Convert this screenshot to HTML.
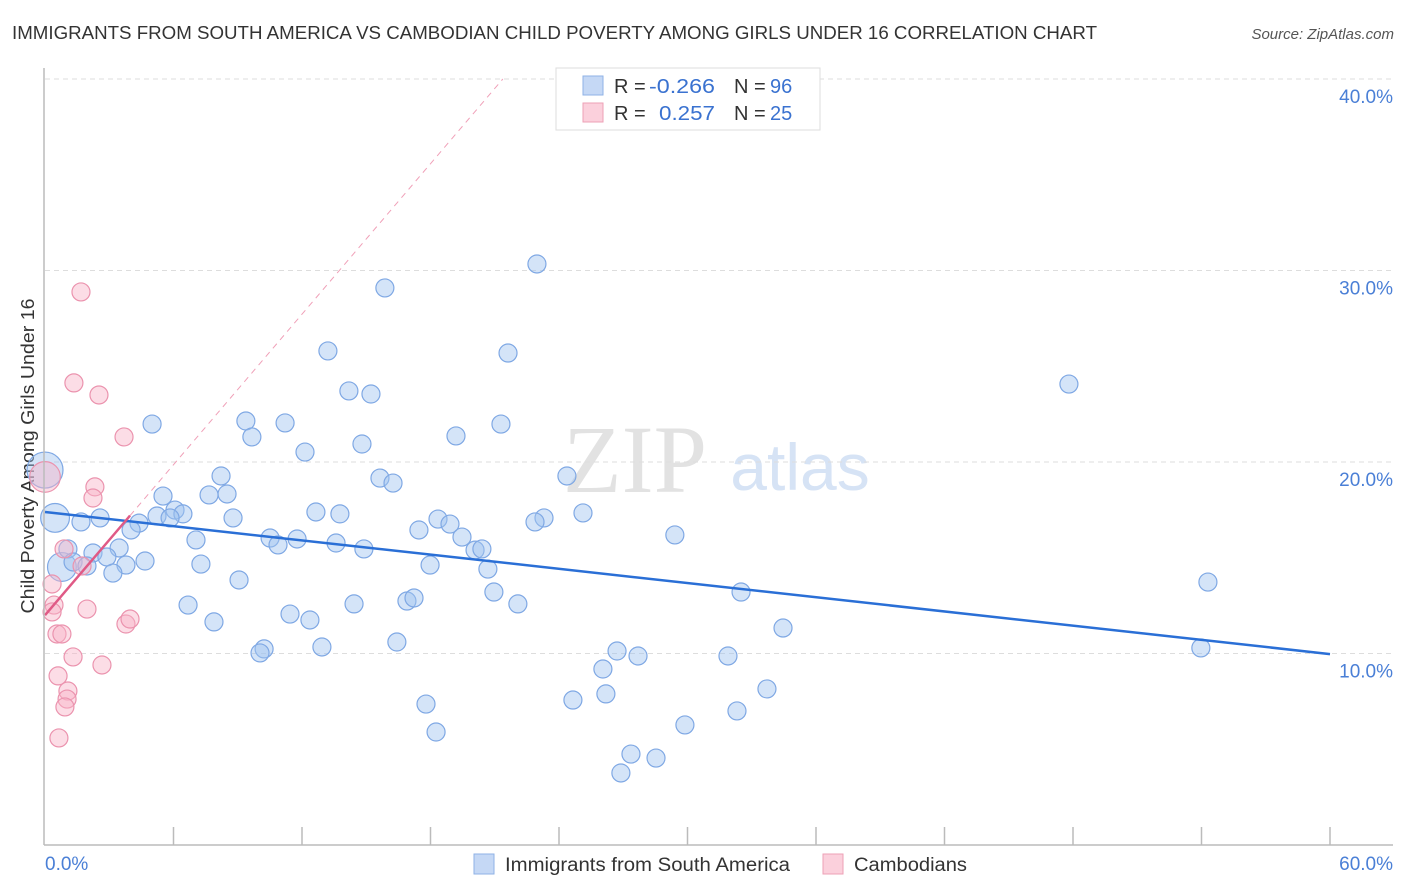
<!DOCTYPE html>
<html><head><meta charset="utf-8"><style>
body{margin:0;background:#fff;font-family:"Liberation Sans",sans-serif;}
#wrap{position:relative;width:1406px;height:892px;overflow:hidden;}
</style></head><body>
<div id="wrap">
<svg id="svg" width="1406" height="892" xmlns="http://www.w3.org/2000/svg">
<text x="12" y="39" font-size="18" fill="#333" textLength="1085" lengthAdjust="spacingAndGlyphs">IMMIGRANTS FROM SOUTH AMERICA VS CAMBODIAN CHILD POVERTY AMONG GIRLS UNDER 16 CORRELATION CHART</text>
<text x="1394" y="39" font-size="15" fill="#555" font-style="italic" text-anchor="end">Source: ZipAtlas.com</text>
<text x="635" y="492" font-size="96" fill="#e2e2e2" font-family="Liberation Serif,serif" text-anchor="middle">ZIP</text>
<text x="800" y="490" font-size="66" fill="#d6e3f5" text-anchor="middle">atlas</text>
<text transform="translate(34,456) rotate(-90)" font-size="18" fill="#333" text-anchor="middle" textLength="315" lengthAdjust="spacingAndGlyphs">Child Poverty Among Girls Under 16</text>
<g id="grid"></g><g id="marks"></g>
<line x1="44" y1="68" x2="44" y2="845" stroke="#bbb" stroke-width="1.5"/>
<line x1="44" y1="845" x2="1393" y2="845" stroke="#bbb" stroke-width="1.5"/>
<text x="45" y="870" font-size="19" fill="#4a7fd6">0.0%</text>
<text x="1393" y="870" font-size="19" fill="#4a7fd6" text-anchor="end">60.0%</text>
<g>
<rect x="556" y="68" width="264" height="62" fill="#fff" stroke="#ddd"/>
<rect x="583" y="76" width="20" height="19" fill="#c5d8f5" stroke="#8fb2e6"/>
<rect x="583" y="103" width="20" height="19" fill="#fbd0dc" stroke="#eea0b6"/>
<text x="614" y="93" font-size="20" fill="#333">R = <tspan x="649" fill="#3a72d0" textLength="66" lengthAdjust="spacingAndGlyphs">-0.266</tspan><tspan x="734">N = </tspan><tspan x="770" fill="#3a72d0">96</tspan></text>
<text x="614" y="120" font-size="20" fill="#333">R = <tspan x="659" fill="#3a72d0" textLength="56" lengthAdjust="spacingAndGlyphs">0.257</tspan><tspan x="734">N = </tspan><tspan x="770" fill="#3a72d0">25</tspan></text>
</g>
<g>
<rect x="474" y="854" width="20" height="20" fill="#c5d8f5" stroke="#8fb2e6"/>
<text x="505" y="871" font-size="19" fill="#333" textLength="285" lengthAdjust="spacingAndGlyphs">Immigrants from South America</text></g>
<g>
<rect x="823" y="854" width="20" height="20" fill="#fbd0dc" stroke="#eea0b6"/>
<text x="854" y="871" font-size="19" fill="#333" textLength="113" lengthAdjust="spacingAndGlyphs">Cambodians</text></g>
</svg></div>
<script>
const yTicks=[10,20,30,40];
const xTickVals=[6,12,18,24,30,36,42,48,54,60];
const blueX=[22.97,15.87,13.21,21.62,47.81,14.19,15.22,5.00,9.38,11.21,21.29,9.66,19.19,14.80,12.14,24.37,8.22,15.64,16.25,5.51,7.66,8.50,6.07,6.44,5.23,5.84,12.65,13.77,8.78,2.57,1.68,4.39,4.02,25.12,23.30,22.88,18.35,18.91,17.46,19.47,10.51,11.77,7.05,10.88,13.59,14.89,20.08,20.40,29.41,3.46,1.07,2.24,2.89,1.31,4.67,1.96,7.28,3.78,3.17,17.98,20.68,9.06,54.30,20.96,32.50,6.68,14.43,16.90,17.23,22.08,11.44,12.37,7.89,34.46,16.43,12.93,10.23,10.04,26.71,27.69,31.89,53.97,26.05,33.71,26.19,24.65,17.79,32.31,29.88,18.26,27.36,28.53,26.89];
const blueY=[30.34,29.09,25.80,25.69,24.07,23.71,23.55,21.98,22.14,22.04,21.98,21.31,21.36,20.94,20.52,19.27,19.27,19.16,18.90,18.22,18.28,18.33,17.49,17.29,17.18,17.08,17.39,17.29,17.08,17.08,16.87,16.81,16.45,17.34,17.08,16.87,17.02,16.76,16.45,16.08,16.03,15.98,15.93,15.67,15.77,15.46,15.40,15.46,16.19,15.51,15.46,15.25,15.04,14.78,14.83,14.57,14.67,14.62,14.20,14.62,14.41,13.84,13.73,13.21,13.21,12.53,12.59,12.74,12.90,12.59,12.06,11.75,11.65,11.33,10.60,10.34,10.24,10.03,10.13,9.87,9.87,10.29,9.19,8.15,7.89,7.57,7.36,7.00,6.27,5.90,4.75,4.54,3.76];
const blueBigX=[0.47,0.79,0.0];
const blueBigY=[17.08,14.52,19.58];
const blueBigW=[1.6,1.6,2.0];
const pinkX=[1.68,1.35,2.52,3.69,2.33,2.24,0.89,1.73,0.33,0.42,0.33,1.96,3.78,3.97,0.56,0.79,1.31,2.66,0.61,1.07,1.03,0.93,0.65];
const pinkY=[28.88,24.13,23.50,21.31,18.70,18.12,15.46,14.57,13.63,12.53,12.17,12.32,11.54,11.80,11.02,11.02,9.82,9.40,8.83,8.04,7.62,7.21,5.59];
const pinkBigX=[0.0];
const pinkBigY=[19.22];
const pinkBigW=[1.7];
const blueTrend=[17.39,9.97];
const pinkTrend=[12.0,17.2];
const pinkTrendEnd=3.97;

const NS="http://www.w3.org/2000/svg";
const sx=v=>45+v*(1285/60);
const sy=v=>845-v*19.15;
const grid=document.getElementById('grid'), marks=document.getElementById('marks');
function mk(tag,attrs,parent){const e=document.createElementNS(NS,tag);for(const k in attrs)e.setAttribute(k,attrs[k]);parent.appendChild(e);return e;}
yTicks.forEach(t=>{
 const l=mk('line',{x1:45,x2:1393,y1:sy(t),y2:sy(t),stroke:'#ddd','stroke-dasharray':'5,4'},grid);
 
 
 const tx=mk('text',{x:1393,y:sy(t)+24,'font-size':19,fill:'#4a7fd6','text-anchor':'end'},grid);
 tx.textContent=t.toFixed(1)+'%';
 
 
});
xTickVals.forEach(t=>{
 const l=mk('line',{x1:sx(t),x2:sx(t),y1:827,y2:845,stroke:'#bbb','stroke-width':1.5},grid);
 
 
});
const slope=(pinkTrend[1]-pinkTrend[0])/pinkTrendEnd;
const xEnd=(40-pinkTrend[0])/slope;
const dl=mk('line',{x1:sx(pinkTrendEnd),y1:sy(pinkTrend[1]),x2:sx(xEnd),y2:sy(40),stroke:'#f0a0b8','stroke-dasharray':'6,5','stroke-width':1},marks);


function dot(x,y,r,fill,stroke,name){
 const c=mk('circle',{cx:sx(x),cy:sy(y),r:r,fill:fill,stroke:stroke,'stroke-width':1.2},marks);
 
 
}
const bF='rgba(160,196,240,0.45)',bS='#7fa8e4',pF='rgba(248,180,200,0.45)',pS='#eb93ae';
blueBigX.forEach((x,i)=>dot(x,blueBigY[i],9*blueBigW[i],bF,bS,'point-south-america-large'));
pinkBigX.forEach((x,i)=>dot(x,pinkBigY[i],9*pinkBigW[i],pF,pS,'point-cambodian-large'));
blueX.forEach((x,i)=>dot(x,blueY[i],9,bF,bS,'point-south-america'));
pinkX.forEach((x,i)=>dot(x,pinkY[i],9,pF,pS,'point-cambodian'));
const bl=mk('line',{x1:sx(0),y1:sy(blueTrend[0]),x2:sx(60),y2:sy(blueTrend[1]),stroke:'#2a6fd6','stroke-width':2.5},marks);


const pl=mk('line',{x1:sx(0),y1:sy(pinkTrend[0]),x2:sx(pinkTrendEnd),y2:sy(pinkTrend[1]),stroke:'#e05a86','stroke-width':2.5},marks);


</script>
</body></html>
